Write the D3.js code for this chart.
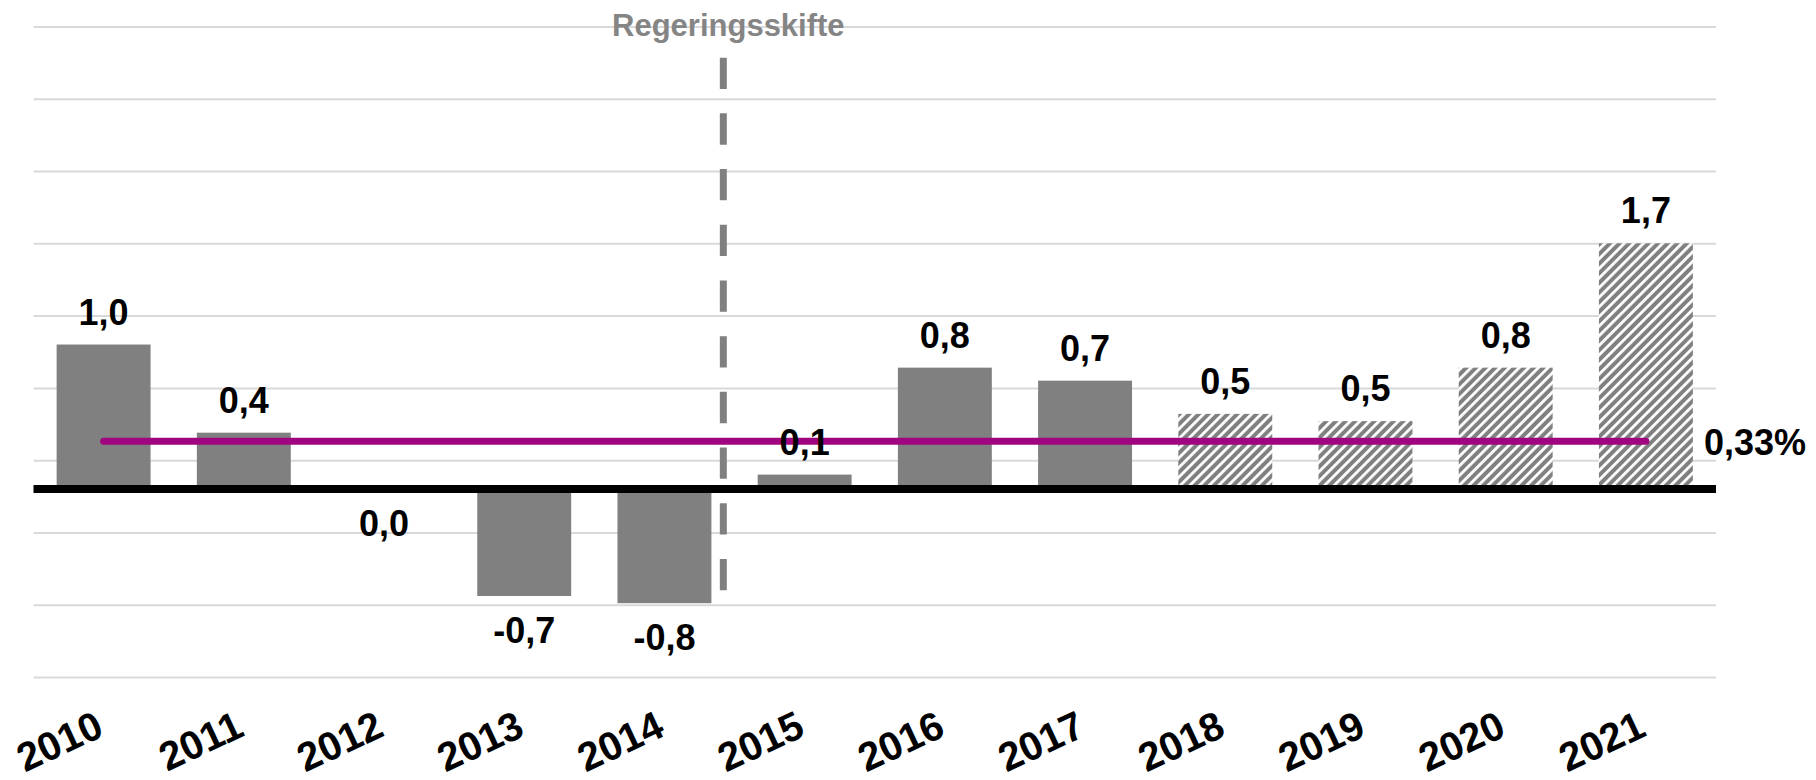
<!DOCTYPE html>
<html>
<head>
<meta charset="utf-8">
<script src="https://cdn.jsdelivr.net/npm/d3@7"></script>
<style>
  html, body { margin: 0; padding: 0; background: #fff; }
  svg { display: block; font-family: "Liberation Sans", Arial, sans-serif; font-weight: bold; }
</style>
</head>
<body>
<svg id="chart" width="1816" height="780"></svg>
<script>
// chart data
var years = ['2010', '2011', '2012', '2013', '2014', '2015', '2016', '2017', '2018', '2019', '2020', '2021'];
var values = [1.0, 0.39, 0.0, -0.74, -0.79, 0.1, 0.84, 0.75, 0.52, 0.47, 0.84, 1.7];
var labels = ['1,0', '0,4', '0,0', '-0,7', '-0,8', '0,1', '0,8', '0,7', '0,5', '0,5', '0,8', '1,7'];
var forecast = [false, false, false, false, false, false, false, false, true, true, true, true];
var gridValues = [-1.3, -0.8, -0.3, 0.2, 0.7, 1.2, 1.7, 2.2, 2.7, 3.2];
var average = 0.33;
var averageLabel = '0,33%';
var shiftLabel = 'Regeringsskifte';
var shiftAfter = '2014';

var svg = d3.select('#chart');
var width = 1816,
    margin = {left: 33.5, right: 100};

var xScale = d3.scaleBand()
  .domain(years)
  .range([margin.left, width - margin.right])
  .paddingInner(0.33)
  .paddingOuter(0.165);

var yScale = d3.scaleLinear()
  .domain([-1.3, 3.2])
  .range([676.9, 26.6]);

var gray = '#808080';

// hatch pattern for forecast years
var defs = svg.append('defs');
var pat = defs.append('pattern')
  .attr('id', 'hatch')
  .attr('patternUnits', 'userSpaceOnUse')
  .attr('width', 6.8)
  .attr('height', 6.8)
  .attr('patternTransform', 'rotate(45)');
pat.append('rect').attr('width', 6.8).attr('height', 6.8).attr('fill', gray);
pat.append('rect').attr('width', 2.8).attr('height', 6.8).attr('fill', '#fff');

// gridlines
var grid = svg.append('g')
  .attr('transform', `translate(${margin.left}, 0)`)
  .call(d3.axisLeft(yScale)
    .tickValues(gridValues)
    .tickSize(-(width - margin.right - margin.left))
    .tickFormat(''));
grid.select('.domain').remove();
grid.selectAll('line').attr('stroke', '#d9d9d9').attr('stroke-width', 2);

// regime change dashed line
var shiftX = xScale(shiftAfter) + xScale.bandwidth() / 2 + xScale.step() * 0.42;
svg.append('line')
  .attr('x1', shiftX).attr('x2', shiftX)
  .attr('y1', yScale(2.985)).attr('y2', yScale(-0.72))
  .attr('stroke', gray)
  .attr('stroke-width', 7)
  .attr('stroke-dasharray', '31.3 24.4');

svg.append('text')
  .attr('x', shiftX + 5)
  .attr('y', 36)
  .attr('text-anchor', 'middle')
  .attr('font-size', 31)
  .attr('fill', '#858585')
  .text(shiftLabel);

// bars
svg.append('g')
  .selectAll('rect')
  .data(values)
  .join('rect')
  .attr('x', (d, i) => xScale(years[i]))
  .attr('y', d => yScale(Math.max(0, d)))
  .attr('width', xScale.bandwidth())
  .attr('height', d => Math.abs(yScale(d) - yScale(0)))
  .attr('fill', (d, i) => forecast[i] ? 'url(#hatch)' : gray);

// zero line
svg.append('line')
  .attr('x1', margin.left).attr('x2', width - margin.right)
  .attr('y1', yScale(0)).attr('y2', yScale(0))
  .attr('stroke', '#000')
  .attr('stroke-width', 8);

// average line
var avgLine = d3.line()
  .x(d => xScale(d) + xScale.bandwidth() / 2)
  .y(() => yScale(average));

svg.append('path')
  .datum([years[0], years[years.length - 1]])
  .attr('fill', 'none')
  .attr('stroke', '#a0057f')
  .attr('stroke-width', 7)
  .attr('stroke-linecap', 'round')
  .attr('d', avgLine);

svg.append('text')
  .attr('x', 1704)
  .attr('y', yScale(average) + 14)
  .attr('font-size', 36)
  .attr('fill', '#000')
  .text(averageLabel);

// value labels
svg.append('g')
  .selectAll('text')
  .data(values)
  .join('text')
  .attr('x', (d, i) => xScale(years[i]) + xScale.bandwidth() / 2)
  .attr('y', d => d > 0 ? yScale(d) - 20 : yScale(d) + 47)
  .attr('text-anchor', 'middle')
  .attr('font-size', 36)
  .attr('fill', '#000')
  .text((d, i) => labels[i]);

// x-axis labels
var xAxis = svg.append('g')
  .attr('transform', 'translate(2, 735)')
  .call(d3.axisBottom(xScale).tickSize(0).tickPadding(0));
xAxis.select('.domain').remove();
xAxis.selectAll('text')
  .attr('font-size', 40)
  .attr('font-family', '"Liberation Sans", Arial, sans-serif')
  .attr('font-weight', 'bold')
  .attr('fill', '#000')
  .attr('dy', 0)
  .attr('y', 0)
  .attr('x', 0)
  .attr('text-anchor', 'end')
  .attr('transform', 'rotate(-25)');
</script>
</body>
</html>
